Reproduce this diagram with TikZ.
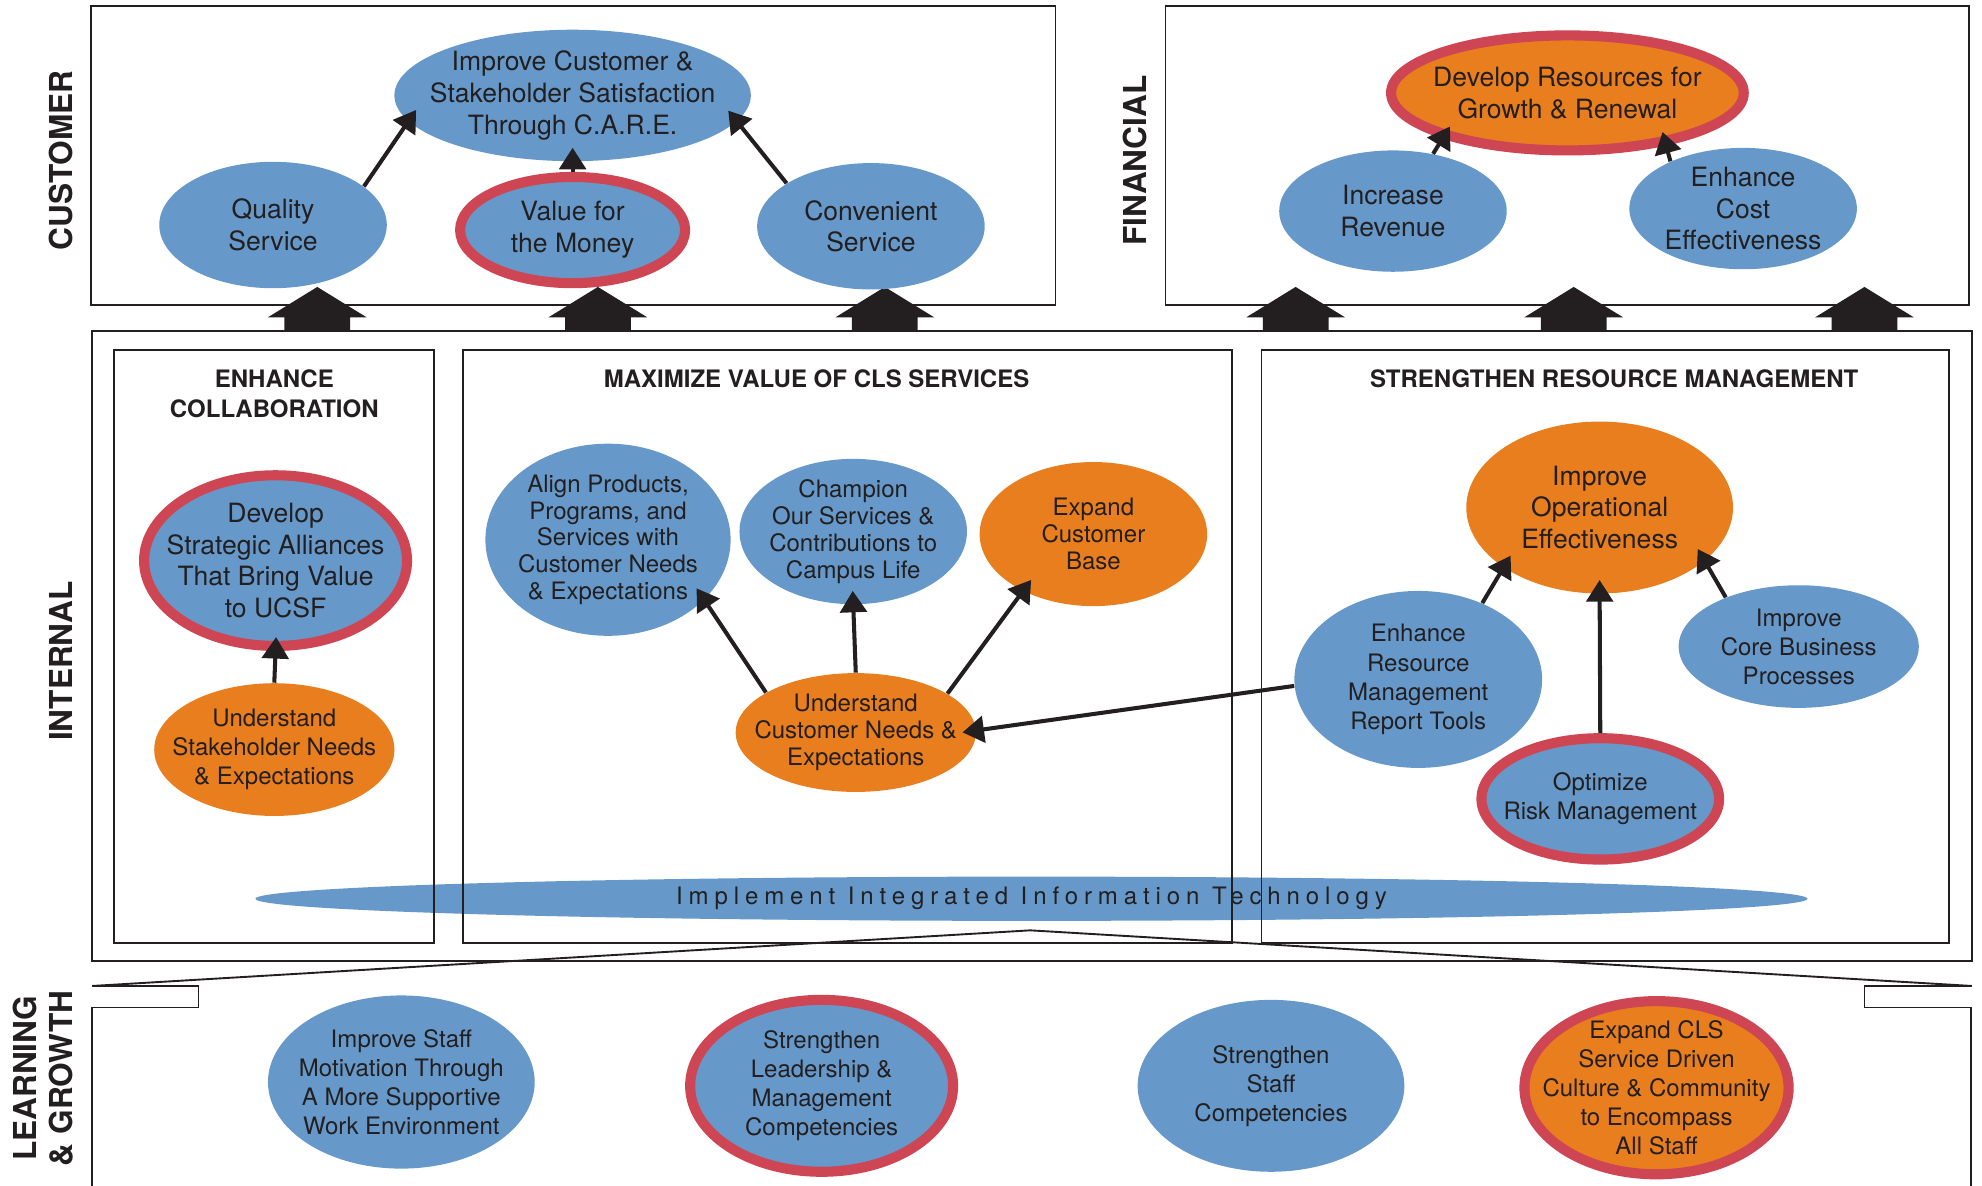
\documentclass[tikz,border=0pt]{standalone}
\usepackage{fontspec}
\setmainfont{TeX Gyre Heros}
\usetikzlibrary{shapes.geometric,arrows.meta}

\definecolor{goal blue}{RGB}{102,153,201}
\definecolor{goal orange}{RGB}{233,126,31}
\definecolor{goal red}{RGB}{206,69,84}
\definecolor{ink}{RGB}{35,31,32}
\def\bigtext{\fontsize{10.5}{12.6}\selectfont}
\def\smalltext{\fontsize{9.5}{11.5}\selectfont}
\def\tighttext{\fontsize{9.5}{10.6}\selectfont}
\tikzset{
  goal/.style={ellipse, fill=goal blue, text=ink, align=center, inner sep=-30pt, font=\smalltext},
  driver/.style={goal, fill=goal orange},
  key/.style={draw=goal red, line width=4pt},
  frame/.style={draw=ink, line width=0.75pt}
  }
\tikzstyle{link} = [draw=ink, line width=1.6pt, -{Triangle[length=8.5pt,width=10.5pt]}, shorten >=-5.5pt]
\tikzstyle{persp}=[rotate=90, align=center, text=ink, font=\fontsize{12.5}{14}\selectfont\bfseries]
\tikzstyle{area}=[align=center, text=ink, font=\fontsize{9.5}{11.5}\selectfont\bfseries]

\begin{document}
\begin{tikzpicture}[x=0.5pt, y=-0.5pt]
  \useasboundingbox (0,0) rectangle (1568,938);

  \draw[frame] (72,5) rectangle (835,241);
  \draw[frame] (922,5) rectangle (1558,241);
  \foreach \x in {251, 473, 700, 1025, 1245, 1475} {
    \fill[ink] (\x,227) -- (\x+39,251) -- (\x+26,251) -- (\x+26,262) -- (\x-26,262) -- (\x-26,251) -- (\x-39,251) -- cycle;
  }

  \node[goal, minimum width=614pt, minimum height=17.5pt, font=\fontsize{9.5}{10}\selectfont\addfontfeature{LetterSpace=24.5}] (it) at (816,711) {Implement Integrated Information Technology};
  \draw[frame] (73,262) rectangle (1560,760);
  \draw[frame] (90,277) rectangle (343,746);
  \draw[frame] (366,277) rectangle (975,746);
  \draw[frame] (998,277) rectangle (1542,746);

  \coordinate (apex) at (815,736);
  \draw[frame] (73,780) -- (apex) -- (1560,780);
  \draw[frame] (73,780) -- (157,780) -- (157,797) -- (73,797) -- (73,945);
  \draw[frame] (1560,780) -- (1475,780) -- (1475,797) -- (1559,797) -- (1559,945);

  \node[persp] (customer) at (48,127) {CUSTOMER};
  \node[persp] (financial) at (898,127) {FINANCIAL};
  \node[persp] (internal) at (48,523) {INTERNAL};
  \node[persp] (learning) at (34,853) {LEARNING\\\& GROWTH};

  \node[area] (collab) at (217,311.5) {ENHANCE\\COLLABORATION};
  \node[area] (maximize) at (646,300) {MAXIMIZE VALUE OF CLS SERVICES};
  \node[area] (strengthen) at (1277,300) {STRENGTHEN RESOURCE MANAGEMENT};

  \node[goal, font=\bigtext, minimum width=141pt, minimum height=52pt] (care) at (453,75.5) {Improve Customer \&\\Stakeholder Satisfaction\\Through C.A.R.E.};
  \node[goal, font=\bigtext, minimum width=90pt, minimum height=50pt] (quality) at (216,178) {Quality\\Service};
  \node[goal, key, font=\bigtext, minimum width=89pt, minimum height=42pt] (value) at (453,182) {Value for\\the Money};
  \node[goal, font=\bigtext, minimum width=90pt, minimum height=50pt] (convenient) at (689,179) {Convenient\\Service};

  \node[driver, key, font=\bigtext, minimum width=139.5pt, minimum height=45.5pt] (resources) at (1240,73.5) {Develop Resources for\\Growth \& Renewal};
  \node[goal, font=\bigtext, minimum width=90pt, minimum height=48pt] (revenue) at (1102,167) {Increase\\Revenue};
  \node[goal, font=\bigtext, minimum width=90pt, minimum height=48pt] (cost) at (1379,165) {Enhance\\Cost\\Effectiveness};

  \node[goal, key, font=\bigtext, minimum width=104pt, minimum height=67.5pt] (alliances) at (218,443.5) {Develop\\Strategic Alliances\\That Bring Value\\to UCSF};
  \node[driver, minimum width=95pt, minimum height=52.5pt] (stakeholder) at (217,593) {Understand\\Stakeholder Needs\\\& Expectations};

  \node[goal, font=\tighttext, minimum width=97pt, minimum height=76pt] (align) at (481,427) {Align Products,\\Programs, and\\Services with\\Customer Needs\\\& Expectations};
  \node[goal, font=\tighttext, minimum width=90pt, minimum height=57.5pt] (champion) at (675,420.5) {Champion\\Our Services \&\\Contributions to\\Campus Life};
  \node[driver, font=\tighttext, minimum width=90pt, minimum height=57pt] (expand) at (865,422.5) {Expand\\Customer\\Base};
  \node[driver, font=\tighttext, minimum width=95pt, minimum height=47pt] (custneeds) at (677,579.5) {Understand\\Customer Needs \&\\Expectations};

  \node[driver, font=\bigtext, minimum width=105.5pt, minimum height=68pt] (opeff) at (1265.5,401.5) {Improve\\Operational\\Effectiveness};
  \node[goal, minimum width=98pt, minimum height=70pt] (tools) at (1122,537.5) {Enhance\\Resource\\Management\\Report Tools};
  \node[goal, minimum width=95pt, minimum height=48.5pt] (core) at (1423,511.5) {Improve\\Core Business\\Processes};
  \node[goal, key, minimum width=94pt, minimum height=48pt] (risk) at (1266,632) {Optimize\\Risk Management};

  \node[goal, minimum width=105.5pt, minimum height=68.5pt] (staff) at (317.5,856) {Improve Staff\\Motivation Through\\A More Supportive\\Work Environment};
  \node[goal, key, minimum width=104pt, minimum height=68pt] (leadership) at (650,859) {Strengthen\\Leadership \&\\Management\\Competencies};
  \node[goal, minimum width=105.5pt, minimum height=68pt] (competencies) at (1005.5,859) {Strengthen\\Staff\\Competencies};
  \node[driver, key, minimum width=104.5pt, minimum height=68.5pt] (culture) at (1310.5,860.5) {Expand CLS\\Service Driven\\Culture \& Community\\to Encompass\\All Staff};

  \draw[link] (quality.23) -- (care.189);
  \draw[link] (value.90) -- (care.270);
  \draw[link] (convenient.153) -- (care.351);
  \draw[link] (revenue.55) -- (resources.200);
  \draw[link] (cost.147) -- (resources.332);
  \draw[link] (stakeholder.90) -- (alliances.270);
  \draw[link] (custneeds.156) -- (align.328);
  \draw[link] (custneeds.90) -- (champion.270);
  \draw[link] (custneeds.23) -- (expand.219);
  \draw[link] (tools.183) -- (custneeds.1);
  \draw[link] (tools.50) -- (opeff.212);
  \draw[link] (risk.90) -- (opeff.270);
  \draw[link] (core.146) -- (opeff.333);

\end{tikzpicture}
\end{document}
